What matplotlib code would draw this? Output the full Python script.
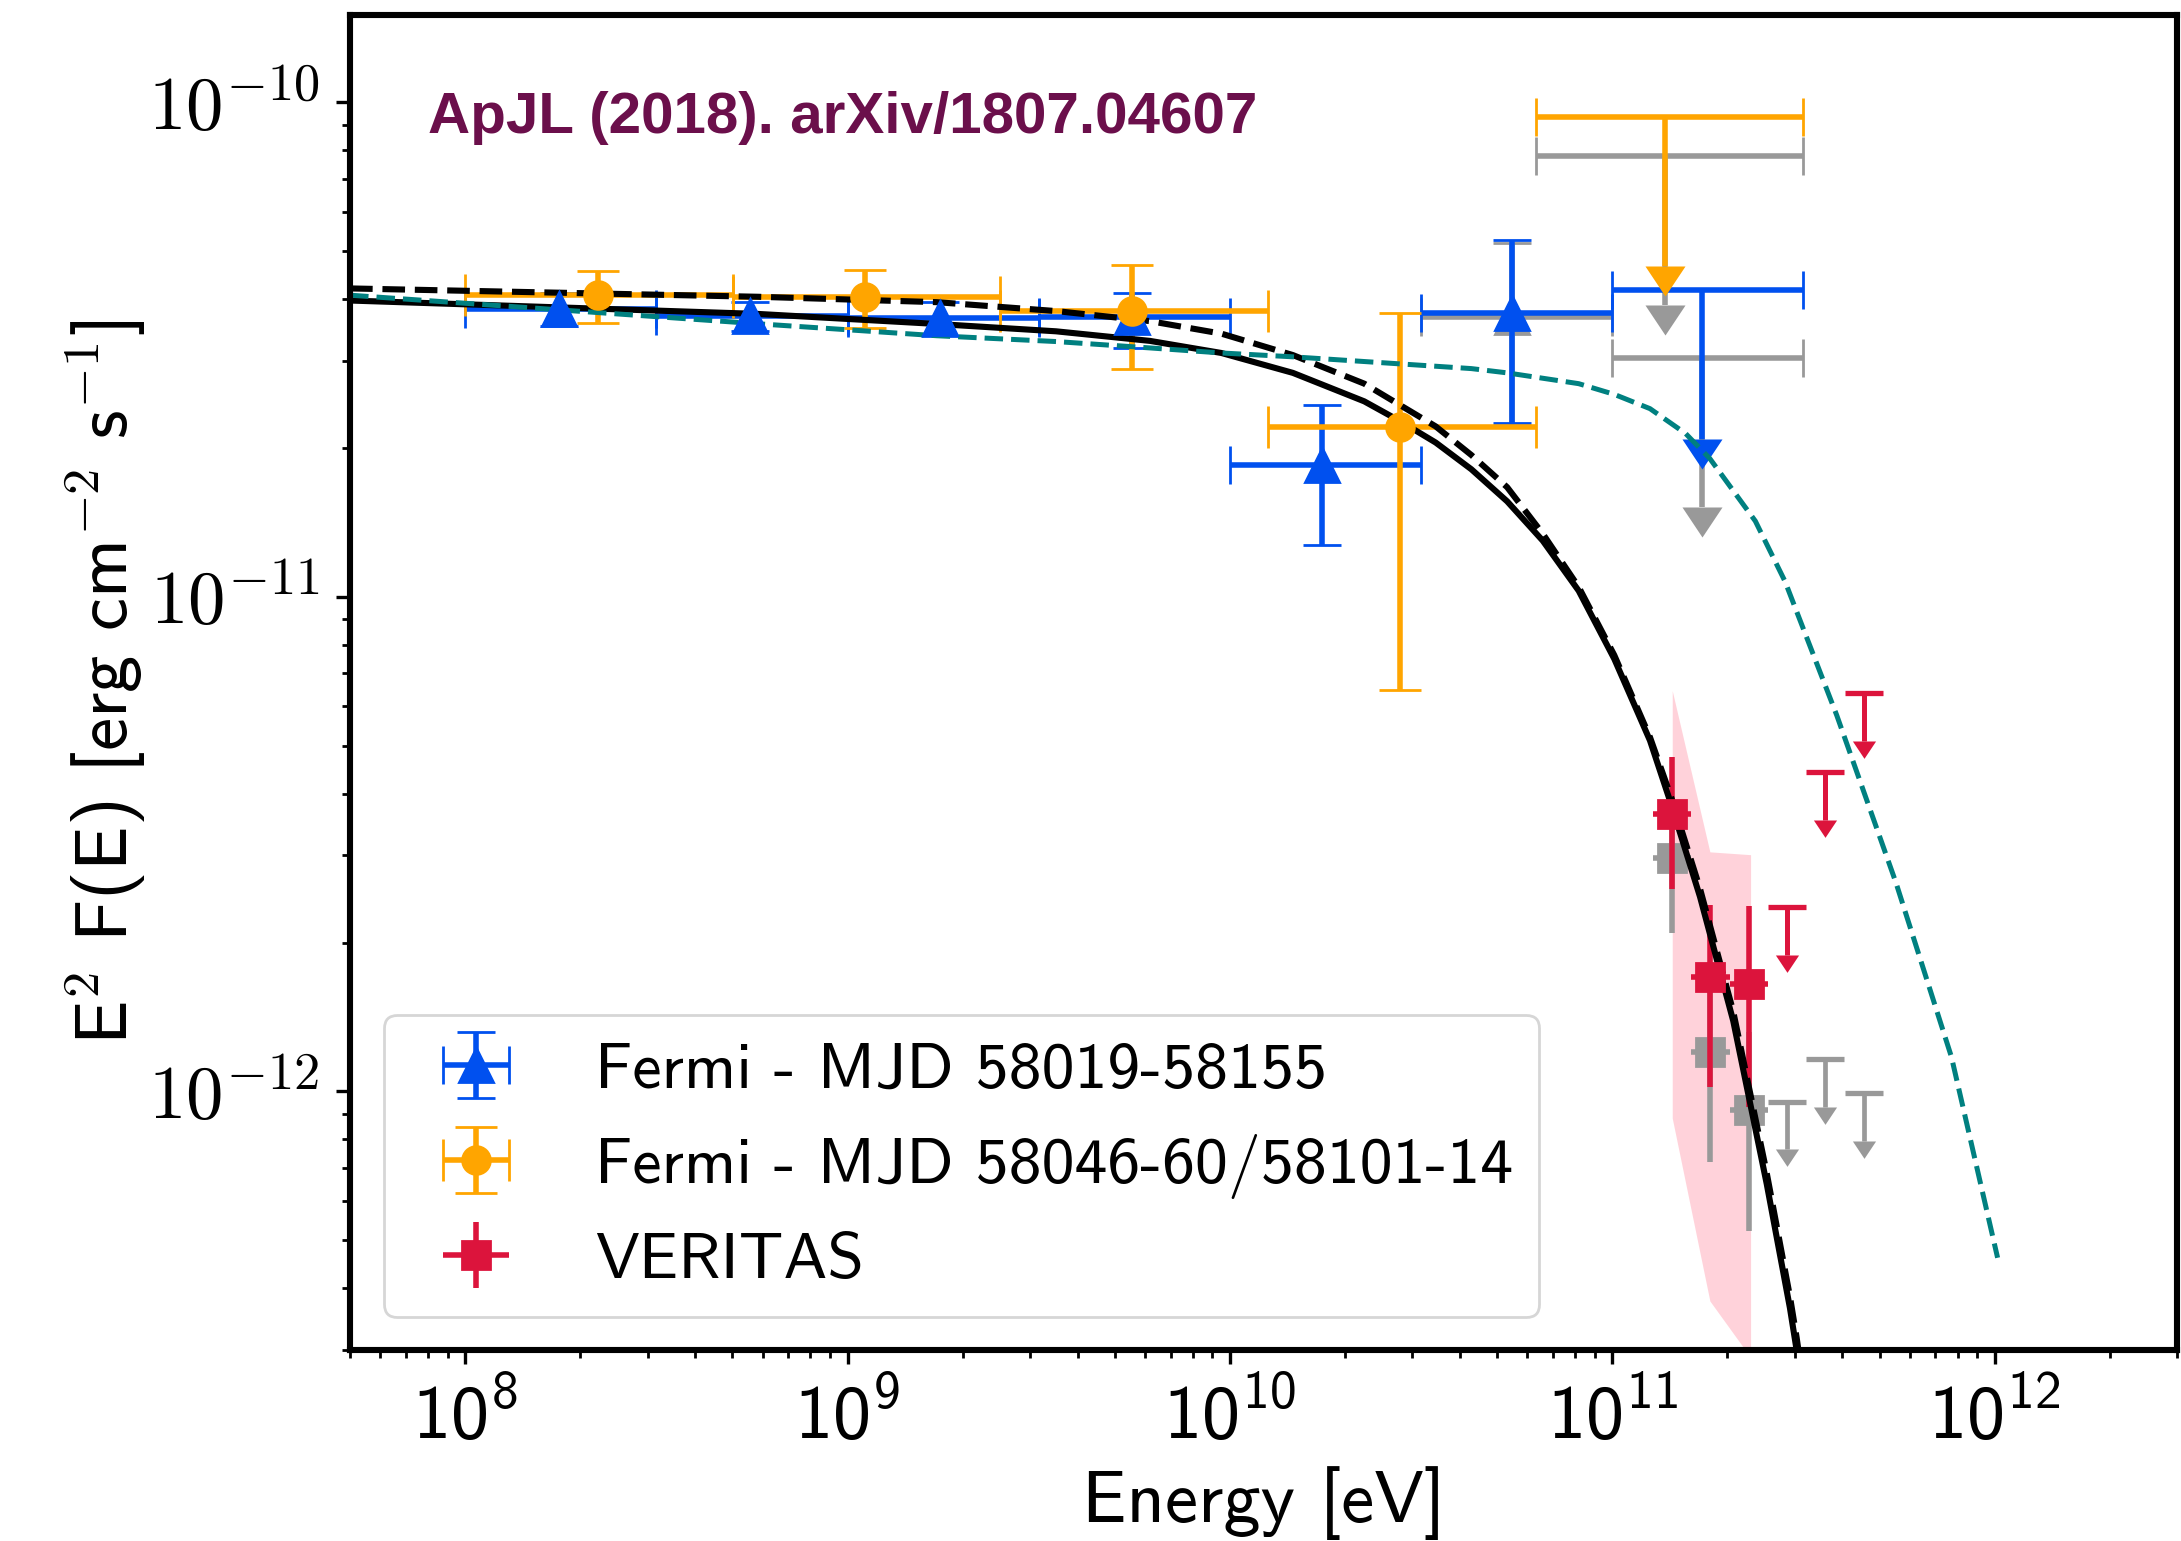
import numpy as np
import matplotlib
matplotlib.use("Agg")
import matplotlib.pyplot as plt
from matplotlib.path import Path
from matplotlib.markers import CARETDOWNBASE
from matplotlib.ticker import FuncFormatter


# Style

plt.rcParams["font.family"] = ["cmss10", "DejaVu Sans"]
plt.rcParams["mathtext.fontset"] = "cm"
plt.rcParams["axes.formatter.use_mathtext"] = True

blue, orange, red, grey, teal = "#0050EF", "#FFA500", "#DC143C", "#999999", "#008080"


# Data (energy in eV, E^2 F(E) in erg cm^-2 s^-1)

# Fermi - MJD 58019-58155
fermi1_E = [1.76e8, 5.55e8, 1.75e9, 5.55e9, 1.74e10, 5.48e10]
fermi1_Elo = [1.00e8, 3.16e8, 1.00e9, 3.16e9, 1.00e10, 3.16e10]
fermi1_Ehi = [3.16e8, 1.00e9, 3.16e9, 1.00e10, 3.16e10, 1.00e11]
fermi1_F = [3.81e-11, 3.70e-11, 3.66e-11, 3.67e-11, 1.85e-11, 3.75e-11]
fermi1_Fhi = [4.12e-11, 3.95e-11, 3.94e-11, 4.12e-11, 2.44e-11, 5.26e-11]
fermi1_Flo = [3.53e-11, 3.45e-11, 3.36e-11, 3.19e-11, 1.27e-11, 2.24e-11]
fermi1_obs_E = [5.48e10]
fermi1_obs_Elo = [3.16e10]
fermi1_obs_Ehi = [1.00e11]
fermi1_obs_F = [3.68e-11]
fermi1_obs_Fhi = [5.20e-11]
fermi1_obs_Flo = [2.20e-11]
fermi1_ul_E = [1.72e11]
fermi1_ul_Elo = [1.00e11]
fermi1_ul_Ehi = [3.16e11]
fermi1_ul_F = [4.17e-11]
fermi1_ul_obs_F = [3.04e-11]

# Fermi - MJD 58046-60/58101-14
fermi2_E = [2.23e8, 1.11e9, 5.56e9, 2.78e10]
fermi2_Elo = [1.00e8, 5.01e8, 2.51e9, 1.26e10]
fermi2_Ehi = [5.01e8, 2.51e9, 1.26e10, 6.31e10]
fermi2_F = [4.07e-11, 4.04e-11, 3.78e-11, 2.20e-11]
fermi2_Fhi = [4.55e-11, 4.58e-11, 4.68e-11, 3.75e-11]
fermi2_Flo = [3.57e-11, 3.49e-11, 2.88e-11, 6.48e-12]
fermi2_ul_E = [1.37e11]
fermi2_ul_Elo = [6.31e10]
fermi2_ul_Ehi = [3.16e11]
fermi2_ul_F = [9.33e-11]
fermi2_ul_obs_F = [7.78e-11]

# VERITAS
veritas_E = [1.435e11, 1.80e11, 2.28e11]
veritas_Elo = [1.28e11, 1.61e11, 2.03e11]
veritas_Ehi = [1.61e11, 2.03e11, 2.56e11]
veritas_F = [3.64e-12, 1.70e-12, 1.65e-12]
veritas_Fhi = [4.75e-12, 2.38e-12, 2.37e-12]
veritas_Flo = [2.56e-12, 1.02e-12, 9.30e-13]
veritas_obs_F = [2.97e-12, 1.20e-12, 9.19e-13]
veritas_obs_Fhi = [3.85e-12, 1.68e-12, 1.32e-12]
veritas_obs_Flo = [2.09e-12, 7.19e-13, 5.21e-13]
veritas_ul_E = [2.87e11, 3.61e11, 4.54e11]
veritas_ul_F = [2.36e-12, 4.43e-12, 6.40e-12]
veritas_ul_obs_F = [9.54e-13, 1.164e-12, 9.91e-13]

# VERITAS butterfly
band_E = [1.435e11, 1.80e11, 2.30e11]
band_hi = [6.46e-12, 3.05e-12, 3.01e-12]
band_lo = [8.83e-13, 3.77e-13, 2.90e-13]

# Model curves
model_solid_E = [5.0e7, 5.83e8, 1.71e9, 3.51e9, 6.18e9, 9.50e9, 1.461e10, 2.246e10, 2.785e10, 3.452e10,
                 4.28e10, 5.31e10, 6.58e10, 8.17e10, 1.012e11, 1.255e11, 1.428e11, 1.696e11, 2.072e11,
                 2.534e11, 2.915e11, 3.035e11, 3.15e11]
model_solid_F = [3.97e-11, 3.73e-11, 3.56e-11, 3.44e-11, 3.29e-11, 3.11e-11, 2.835e-11, 2.483e-11, 2.265e-11, 2.05e-11,
                 1.81e-11, 1.559e-11, 1.298e-11, 1.028e-11, 7.49e-12, 5.12e-12, 3.79e-12, 2.475e-12, 1.388e-12,
                 6.51e-13, 3.65e-13, 3.0e-13, 2.5e-13]
model_dashed_E = [5.0e7, 5.83e8, 1.71e9, 3.51e9, 6.18e9, 9.50e9, 1.461e10, 2.246e10, 3.452e10, 4.28e10,
                  5.31e10, 6.58e10, 8.17e10, 1.012e11, 1.255e11, 1.428e11, 1.696e11, 2.072e11, 2.534e11,
                  2.915e11, 3.035e11, 3.15e11]
model_dashed_F = [4.20e-11, 4.04e-11, 3.94e-11, 3.78e-11, 3.607e-11, 3.403e-11, 3.08e-11, 2.696e-11, 2.21e-11, 1.934e-11,
                  1.665e-11, 1.341e-11, 1.046e-11, 7.62e-12, 5.20e-12, 3.92e-12, 2.57e-12, 1.45e-12, 6.85e-13,
                  3.85e-13, 3.18e-13, 2.6e-13]
model_teal_E = [5.0e7, 5.61e8, 1.71e9, 3.51e9, 6.18e9, 9.50e9, 1.461e10, 2.785e10, 4.28e10, 5.31e10,
                8.17e10, 1.012e11, 1.255e11, 1.556e11, 1.80e11, 2.367e11, 2.83e11, 3.864e11, 5.52e11,
                7.71e11, 1.018e12]
model_teal_F = [4.07e-11, 3.57e-11, 3.37e-11, 3.28e-11, 3.184e-11, 3.11e-11, 3.055e-11, 2.956e-11, 2.892e-11, 2.835e-11,
                2.696e-11, 2.565e-11, 2.40e-11, 2.137e-11, 1.902e-11, 1.422e-11, 1.074e-11, 5.76e-12, 2.642e-12,
                1.174e-12, 4.61e-13]

x_ticks = [1e8, 1e9, 1e10, 1e11, 1e12]
y_ticks = [1e-12, 1e-11, 1e-10]


# Helpers

tri_down = Path([[-1.0, 0.0], [1.0, 0.0], [0.0, -1.5], [-1.0, 0.0]],
                [Path.MOVETO, Path.LINETO, Path.LINETO, Path.CLOSEPOLY])


def asym(v, lo, hi):
    v, lo, hi = np.asarray(v), np.asarray(lo), np.asarray(hi)
    return [v - lo, hi - v]


def upper_limits(ax, E, F, frac, color, caret, Elo=None, Ehi=None, z=2, lw=1.8, capthick=1.0):
    # upper limit: bar from F down to (1-frac)*F, cap on top, filled arrow head below
    E, F = np.asarray(E), np.asarray(F)
    xerr = asym(E, Elo, Ehi) if Elo is not None else None
    eb = ax.errorbar(E, F, xerr=xerr, yerr=frac * F, uplims=True, fmt="none", ecolor=color,
                     elinewidth=lw, capsize=7, capthick=capthick, zorder=z)
    for ln in eb[1]:
        if ln.get_marker() == CARETDOWNBASE:
            ln.set_marker(tri_down)
            ln.set_markersize(caret)
            ln.set_markerfacecolor(color)
            ln.set_markeredgewidth(0)


# Figure

fig = plt.figure(figsize=(10.905, 7.705), dpi=200)
ax = fig.add_axes([0.1605, 0.1239, 0.8377, 0.8664])
ax.set_xscale("log")
ax.set_yscale("log")

ax.fill_between(band_E, band_lo, band_hi, color="pink", alpha=0.7, lw=0, zorder=1)

# observed (grey) points underneath
ax.errorbar(fermi1_obs_E, fermi1_obs_F, xerr=asym(fermi1_obs_E, fermi1_obs_Elo, fermi1_obs_Ehi),
            yerr=asym(fermi1_obs_F, fermi1_obs_Flo, fermi1_obs_Fhi), fmt="^", color=grey, ms=12.5,
            elinewidth=2, capsize=7, capthick=1, zorder=1.5)
ax.errorbar(veritas_E, veritas_obs_F, xerr=asym(veritas_E, veritas_Elo, veritas_Ehi),
            yerr=asym(veritas_obs_F, veritas_obs_Flo, veritas_obs_Fhi), fmt="s", color=grey, ms=10.3,
            elinewidth=2, capsize=0, zorder=1.5)
upper_limits(ax, fermi1_ul_E, fermi1_ul_obs_F, 0.5, grey, 21.6, fermi1_ul_Elo, fermi1_ul_Ehi, z=1.5, lw=2)
upper_limits(ax, fermi2_ul_E, fermi2_ul_obs_F, 0.5, grey, 21.6, fermi2_ul_Elo, fermi2_ul_Ehi, z=1.5, lw=2)
upper_limits(ax, veritas_ul_E, veritas_ul_obs_F, 0.2, grey, 12.5, z=1.5, lw=1.7, capthick=1.9)

# Fermi and VERITAS points
h1 = ax.errorbar(fermi1_E, fermi1_F, xerr=asym(fermi1_E, fermi1_Elo, fermi1_Ehi),
                 yerr=asym(fermi1_F, fermi1_Flo, fermi1_Fhi), fmt="^", color=blue, ms=12.5,
                 elinewidth=2, capsize=7, capthick=1)
h2 = ax.errorbar(fermi2_E, fermi2_F, xerr=asym(fermi2_E, fermi2_Elo, fermi2_Ehi),
                 yerr=asym(fermi2_F, fermi2_Flo, fermi2_Fhi), fmt="o", color=orange, ms=10,
                 elinewidth=2, capsize=7.5, capthick=1)
upper_limits(ax, fermi1_ul_E, fermi1_ul_F, 0.5, blue, 21.6, fermi1_ul_Elo, fermi1_ul_Ehi, lw=2)
upper_limits(ax, fermi2_ul_E, fermi2_ul_F, 0.5, orange, 21.6, fermi2_ul_Elo, fermi2_ul_Ehi, lw=2)
h3 = ax.errorbar(veritas_E, veritas_F, xerr=asym(veritas_E, veritas_Elo, veritas_Ehi),
                 yerr=asym(veritas_F, veritas_Flo, veritas_Fhi), fmt="s", color=red, ms=10.3,
                 elinewidth=2, capsize=0)
upper_limits(ax, veritas_ul_E, veritas_ul_F, 0.2, red, 12.5, lw=1.8, capthick=1.9)

# models
ax.plot(model_solid_E, model_solid_F, color="black", lw=2.2)
ax.plot(model_dashed_E, model_dashed_F, color="black", lw=2.2, ls="--")
ax.plot(model_teal_E, model_teal_F, color=teal, lw=1.8, ls="--")

ax.text(0.0425, 0.9114, "ApJL (2018). arXiv/1807.04607", transform=ax.transAxes, va="baseline",
        family=["Liberation Sans", "DejaVu Sans"], fontweight="bold", fontsize=21, color="#6b0f4b")

ax.set_xlim(5e7, 3e12)
ax.set_ylim(3e-13, 1.5e-10)
ax.set_xticks(x_ticks)
ax.set_yticks(y_ticks)
ax.yaxis.set_major_formatter(FuncFormatter(lambda v, p: r"$10^{%d}$" % round(np.log10(v))))

ax.set_xlabel("Energy [eV]", fontsize=26.8, labelpad=4)
ax.set_ylabel(r"E$^{\mathsf{2}}$ F(E) [erg cm$^{\mathsf{-2}}$ s$^{\mathsf{-1}}$]", fontsize=26.8, labelpad=0)
ax.tick_params(which="both", direction="out", top=False, right=False)
ax.tick_params(which="major", length=5, width=1.2, pad=6)
ax.tick_params(which="minor", length=3, width=1)
ax.tick_params(axis="x", labelsize=27.5)
ax.tick_params(axis="y", labelsize=27)
for sp in ax.spines.values():
    sp.set_linewidth(2.2)

ax.legend([h1, h2, h3], ["Fermi - MJD 58019-58155", "Fermi - MJD 58046-60/58101-14", "VERITAS"],
          loc="lower left", bbox_to_anchor=(0.0186, 0.0248), borderaxespad=0, fontsize=23.7)

fig.savefig("out.png", dpi=200)
